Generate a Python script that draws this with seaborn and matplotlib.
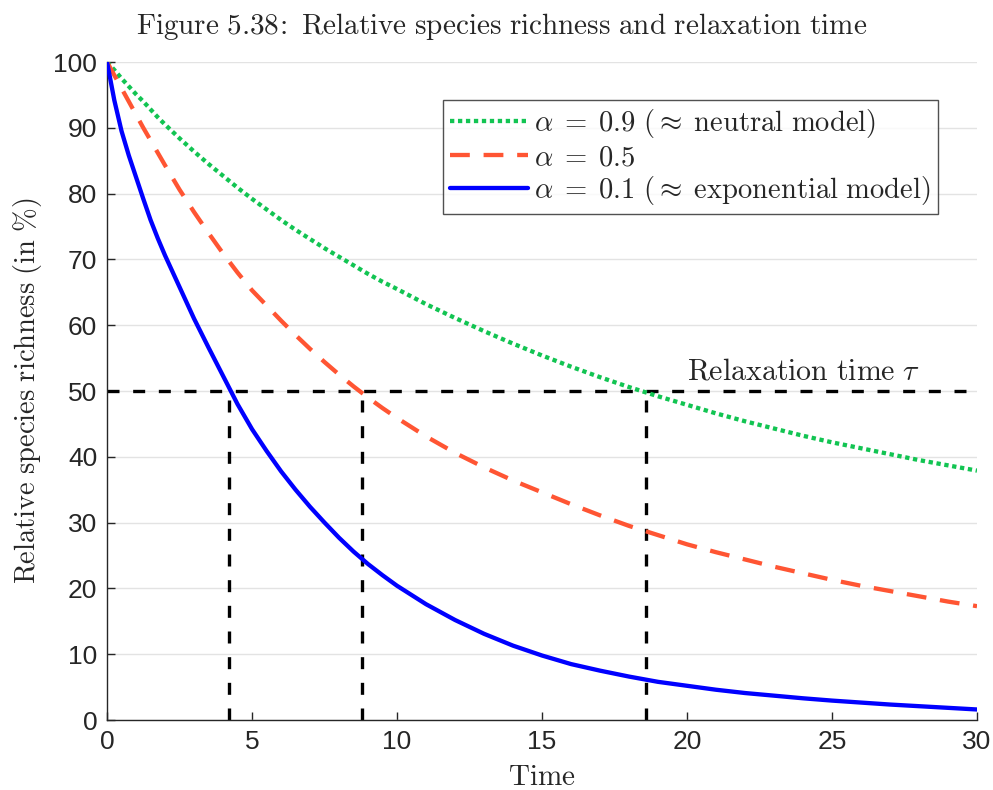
import numpy as np
import pandas as pd
import matplotlib
matplotlib.use('Agg')
import matplotlib.pyplot as plt
import seaborn as sns

# values (time, relative species richness in %)
time = [0, 0.25, 0.5, 0.75, 1, 1.25, 1.5, 1.75, 2, 2.5, 3, 3.5, 4, 4.5, 5, 5.5, 6, 6.5,
        7, 7.5, 8, 8.5, 9, 9.5, 10, 11, 12, 13, 14, 15, 16, 17, 18, 19, 20, 21, 22, 23,
        24, 25, 26, 27, 28, 29, 30]
alpha_09 = [100, 98.8, 97.5, 96.3, 95.1, 94.0, 92.8, 91.6, 90.5, 88.4, 86.4, 84.5, 82.7,
            80.9, 79.2, 77.6, 76.0, 74.5, 73.1, 71.7, 70.4, 69.1, 67.8, 66.6, 65.5, 63.2,
            61.1, 59.1, 57.2, 55.4, 53.7, 52.1, 50.6, 49.2, 47.9, 46.6, 45.4, 44.3, 43.2,
            42.2, 41.3, 40.4, 39.5, 38.7, 37.9]
alpha_05 = [100, 98.0, 96.0, 94.0, 92.0, 90.0, 88.1, 86.2, 84.3, 80.6, 77.2, 74.0, 70.9,
            68.0, 65.3, 63.0, 60.7, 58.5, 56.4, 54.4, 52.5, 50.7, 49.0, 47.4, 45.9, 43.1,
            40.6, 38.4, 36.4, 34.6, 32.8, 31.1, 29.5, 28.1, 26.7, 25.5, 24.4, 23.3, 22.3,
            21.3, 20.4, 19.6, 18.8, 18.0, 17.3]
alpha_01 = [100, 94.2, 89.5, 85.8, 82.5, 79.2, 76.0, 73.2, 70.6, 65.8, 61.0, 56.6, 52.3,
            48.0, 44.2, 40.9, 37.8, 35.0, 32.4, 30.0, 27.7, 25.6, 23.7, 22.0, 20.4, 17.6,
            15.2, 13.1, 11.3, 9.8, 8.5, 7.5, 6.6, 5.8, 5.2, 4.6, 4.1, 3.7, 3.3, 2.95, 2.65,
            2.35, 2.1, 1.85, 1.6]
relax_times = [4.2, 8.8, 18.6]
half_level = 50

labels = [r'$\alpha\;=\;0.9\ (\approx\;\mathrm{neutral\ model})$',
          r'$\alpha\;=\;0.5$',
          r'$\alpha\;=\;0.1\ (\approx\;\mathrm{exponential\ model})$']
colors = ['#12c452', '#ff5533', '#0000ff']
dash_styles = [(1.0, 0.85), (4.6, 3.2), ()]

df = pd.DataFrame({'Time': time, labels[0]: alpha_09, labels[1]: alpha_05, labels[2]: alpha_01})
long_df = df.melt(id_vars='Time', var_name='model', value_name='richness')

sns.set_theme(style='white')
plt.rcParams['mathtext.fontset'] = 'cm'
plt.rcParams['font.family'] = ['Liberation Sans', 'DejaVu Sans']

fig = plt.figure(figsize=(9.93, 7.90), dpi=100)
ax = fig.add_axes([0.1078, 0.0886, 0.8761, 0.8329])

# horizontal and vertical guide lines for relaxation time
ax.plot([0, 30], [half_level, half_level], color='black', lw=2.4, dashes=(3.6, 4.1), zorder=2)
for tau in relax_times:
    ax.plot([tau, tau], [0, half_level], color='black', lw=2.4, dashes=(3.6, 4.1), zorder=2)

for lab, col, ds in zip(labels, colors, dash_styles):
    sub = long_df[long_df['model'] == lab]
    sns.lineplot(data=sub, x='Time', y='richness', ax=ax, color=col, lw=3.1,
                 label=lab, zorder=3)
    ln = ax.get_lines()[-1]
    if ds:
        ln.set_dashes(ds)

ax.set_xlim(0, 30)
ax.set_ylim(0, 100)
ax.set_xticks(np.arange(0, 31, 5))
ax.set_yticks(np.arange(0, 101, 10))
ax.tick_params(axis='both', direction='in', length=6, width=1, labelsize=19,
               colors='#262626', left=True, bottom=True, pad=7)
ax.yaxis.grid(True, color='#e3e3e3', lw=1)
ax.xaxis.grid(False)
ax.set_axisbelow(True)
for side in ['top', 'right']:
    ax.spines[side].set_visible(False)
for side in ['left', 'bottom']:
    ax.spines[side].set_color('#262626')
    ax.spines[side].set_linewidth(1)

ax.set_xlabel(r'$\mathrm{Time}$', fontsize=21, labelpad=7)
ax.set_ylabel(r'$\mathrm{Relative\ species\ richness\ (in\ \%)}$', fontsize=20.5, labelpad=7)
ax.text(20, 50.9, r'$\mathrm{Relaxation\ time}\ \tau$', fontsize=21.5, ha='left', va='bottom')
fig.text(0.505, 0.966, r'$\mathrm{Figure\ 5.38\!:\ Relative\ species\ richness\ and\ relaxation\ time}$',
         fontsize=21, ha='center', va='center')

leg = ax.legend(loc='upper right', bbox_to_anchor=(0.955, 0.942), borderaxespad=0,
                fontsize=20.6, handlelength=2.75, handletextpad=0.2, labelspacing=0.1,
                borderpad=0.25, frameon=True, fancybox=False)
leg.get_frame().set_edgecolor('#262626')
leg.get_frame().set_linewidth(1)

fig.savefig('out.png', dpi=100)
